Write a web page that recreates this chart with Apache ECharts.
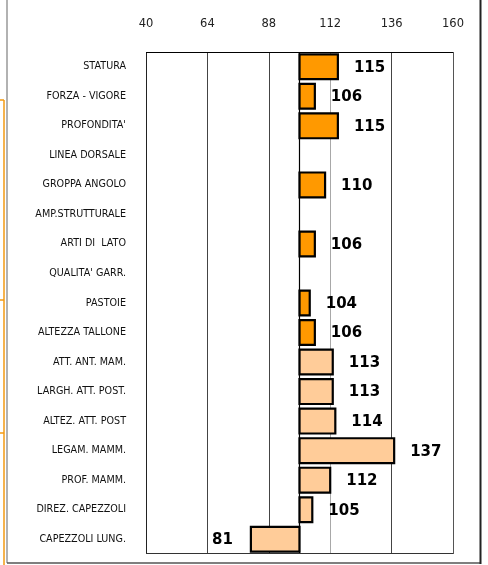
<!DOCTYPE html>
<html><head><meta charset="utf-8">
<script src="https://cdn.jsdelivr.net/npm/echarts@6/dist/echarts.min.js"></script>
<style>html,body{margin:0;padding:0;background:#fff}#c{width:488px;height:565px}</style>
</head><body><div id="c"></div>
<script>
const categories = ["STATURA","FORZA - VIGORE","PROFONDITA'","LINEA DORSALE","GROPPA ANGOLO","AMP.STRUTTURALE","ARTI DI  LATO","QUALITA' GARR.","PASTOIE","ALTEZZA TALLONE","ATT. ANT. MAM.","LARGH. ATT. POST.","ALTEZ. ATT. POST","LEGAM. MAMM.","PROF. MAMM.","DIREZ. CAPEZZOLI","CAPEZZOLI LUNG."];
const values = [115,106,115,null,110,null,106,null,104,106,113,113,114,137,112,105,81];
const groups = [0,0,0,0,0,0,0,0,0,0,1,1,1,1,1,1,1];
const groupColors = ['#FF9900','#FFCC99'];
const baseValue = 100;
const tickValues = [40,64,88,112,136,160];

const chart = echarts.init(document.getElementById('c'), null, {renderer:'canvas'});
const data = categories.map((c,i)=>[values[i], i, groups[i]]).filter(d=>d[0]!==null);

chart.setOption({
  backgroundColor:'#fff',
  animation:false,
  grid:{left:146,right:35,top:52,bottom:11,show:false},
  xAxis:{type:'value',position:'top',min:tickValues[0],max:tickValues[tickValues.length-1],interval:tickValues[1]-tickValues[0],
    axisLine:{show:false},axisTick:{show:false},
    axisLabel:{margin:22,color:'#222',fontSize:11.5,fontFamily:'DejaVu Sans'},
    splitLine:{show:true,lineStyle:{color:['#222','#444','#444','#a8a8a8','#444','#555'],width:1}}},
  yAxis:{type:'category',inverse:true,data:categories,
    axisLine:{show:false},axisTick:{show:false},
    axisLabel:{margin:20,color:'#111',fontSize:9.6,fontFamily:'DejaVu Sans'}},
  graphic:[
    {type:'line',shape:{x1:146,y1:52.5,x2:453,y2:52.5},style:{stroke:'#000',lineWidth:1},z:10},
    {type:'line',shape:{x1:146,y1:553.5,x2:453,y2:553.5},style:{stroke:'#333',lineWidth:1},z:10},
    {type:'line',shape:{x1:7,y1:0,x2:7,y2:563},style:{stroke:'#999',lineWidth:1.5}},
    {type:'line',shape:{x1:7,y1:563,x2:481,y2:563},style:{stroke:'#555',lineWidth:1.5}},
    {type:'line',shape:{x1:480.5,y1:0,x2:480.5,y2:564},style:{stroke:'#222',lineWidth:2}},
    {type:'line',shape:{x1:4,y1:100,x2:4,y2:565},style:{stroke:'#F39A12',lineWidth:1.5}},
    {type:'line',shape:{x1:0,y1:100,x2:4,y2:100},style:{stroke:'#F39A12',lineWidth:1.5}},
    {type:'line',shape:{x1:0,y1:300,x2:4,y2:300},style:{stroke:'#F39A12',lineWidth:1.5}},
    {type:'line',shape:{x1:0,y1:433,x2:4,y2:433},style:{stroke:'#F39A12',lineWidth:1.5}}
  ],
  series:[{
    type:'custom',
    data:data,
    encode:{x:0,y:1},
    clip:false,
    renderItem:function(params, api){
      const v = api.value(0), idx = api.value(1), g = api.value(2);
      const p0 = api.coord([baseValue, idx]);
      const p1 = api.coord([v, idx]);
      const h = api.size([0,1])[1]*0.84;
      const x = Math.min(p0[0],p1[0]), w = Math.abs(p1[0]-p0[0]);
      const pos = v >= baseValue;
      return {type:'group',children:[
        {type:'rect',shape:{x:x,y:p0[1]-h/2,width:w,height:h},
         style:{fill:groupColors[g],stroke:'#000',lineWidth:2.2}},
        {type:'text',x: pos ? p1[0]+16 : p1[0]-18, y:p0[1]+1,
         style:{text:String(v),fill:'#000',font:'bold 15px "DejaVu Sans"',
           align: pos?'left':'right', verticalAlign:'middle'}}
      ]};
    },
    markLine:{silent:true,symbol:'none',label:{show:false},
      lineStyle:{color:'#000',width:1.2,type:'solid'},
      data:[{xAxis:baseValue}]}
  }]
});
</script></body></html>
